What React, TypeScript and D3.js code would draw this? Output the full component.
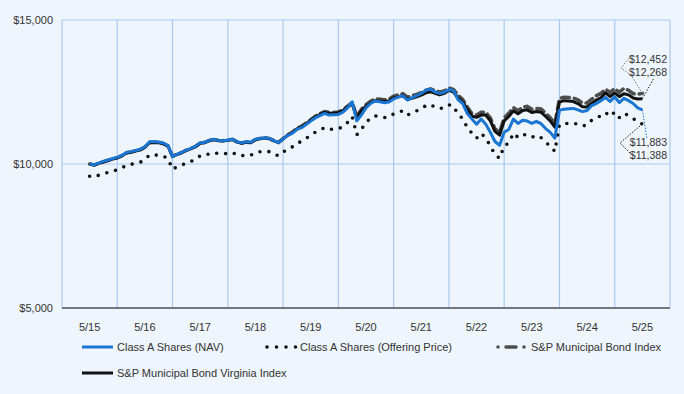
import React from 'react';
import * as d3 from 'd3';

// monthly values, 5/15 .. 5/25
const navValues = [
  10000, 9970, 10040, 10090, 10140, 10190, 10230, 10300, 10400, 10430, 10470, 10510,
  10600, 10775, 10770, 10765, 10730, 10640, 10255, 10340, 10400, 10480, 10540, 10610,
  10740, 10750, 10820, 10860, 10820, 10810, 10830, 10860, 10770, 10740, 10770, 10760,
  10860, 10890, 10910, 10890, 10810, 10740, 10870, 10990, 11065, 11200, 11260, 11370,
  11490, 11600, 11680, 11760, 11700, 11710, 11720, 11800, 11950, 12160, 11500, 11700,
  11950, 12100, 12190, 12160, 12130, 12150, 12260, 12320, 12370, 12220, 12300, 12370,
  12450, 12560, 12600, 12500, 12450, 12490, 12590, 12545, 12230, 12100, 11750, 11560,
  11380, 11560, 11380, 11100, 10780, 10650, 11100, 11200, 11560, 11410, 11520, 11490,
  11410, 11480, 11400, 11230, 11100, 10900, 11870, 11900, 11920, 11930, 11880, 11820,
  11860, 12030, 12100, 12200, 12310, 12170, 12330, 12130, 12280, 12200, 12100, 11950,
  11883,
];

const offeringValues = [
  9575, 9546, 9613, 9661, 9709, 9757, 9795, 9862, 9958, 9987, 10025, 10063,
  10150, 10317, 10312, 10307, 10274, 10188, 9819, 9901, 9958, 10035, 10092, 10159,
  10284, 10293, 10360, 10398, 10360, 10351, 10370, 10398, 10312, 10284, 10312, 10303,
  10398, 10427, 10446, 10427, 10351, 10284, 10408, 10523, 10595, 10724, 10781, 10887,
  11002, 11107, 11184, 11260, 11203, 11212, 11222, 11299, 11442, 11643, 11011, 11203,
  11442, 11586, 11672, 11643, 11614, 11634, 11739, 11796, 11844, 11701, 11777, 11844,
  11921, 12026, 12065, 11969, 11921, 11959, 12055, 12012, 11710, 11586, 11251, 11069,
  10896, 11069, 10896, 10628, 10322, 10197, 10628, 10724, 11069, 10925, 11030, 11002,
  10925, 10992, 10916, 10753, 10628, 10437, 11366, 11394, 11413, 11423, 11375, 11318,
  11356, 11519, 11586, 11682, 11787, 11653, 11806, 11614, 11758, 11682, 11586, 11442,
  11388,
];

const spMuniValues = [
  10000, 9965, 10030, 10080, 10130, 10180, 10220, 10290, 10390, 10420, 10460, 10500,
  10590, 10750, 10760, 10750, 10710, 10630, 10270, 10340, 10400, 10480, 10540, 10610,
  10730, 10750, 10820, 10850, 10820, 10810, 10830, 10860, 10770, 10730, 10760, 10750,
  10850, 10890, 10910, 10890, 10810, 10750, 10880, 11010, 11100, 11240, 11310, 11420,
  11540, 11660, 11750, 11820, 11790, 11790, 11810, 11880, 12010, 12140, 11650, 11900,
  12060, 12180, 12260, 12250, 12230, 12250, 12360, 12400, 12440, 12320, 12370, 12420,
  12480, 12560, 12610, 12550, 12500, 12540, 12640, 12590, 12380, 12240, 11980, 11750,
  11700, 11800, 11800, 11600, 11220, 11100, 11600, 11760, 11960, 11850, 11970, 12000,
  11900, 11930, 11910, 11760, 11610, 11400, 12270, 12320, 12310, 12290, 12230, 12120,
  12120, 12250, 12370, 12450, 12600, 12480, 12620, 12490, 12630, 12560, 12440, 12420,
  12452,
];

const spVirginiaValues = [
  10000, 9960, 10020, 10070, 10120, 10170, 10210, 10280, 10380, 10410, 10450, 10490,
  10580, 10740, 10750, 10740, 10700, 10620, 10260, 10330, 10390, 10470, 10530, 10600,
  10720, 10740, 10810, 10840, 10810, 10800, 10820, 10850, 10760, 10720, 10750, 10740,
  10840, 10880, 10900, 10880, 10800, 10740, 10870, 11000, 11080, 11220, 11290, 11400,
  11520, 11630, 11720, 11790, 11760, 11760, 11780, 11850, 11980, 12100, 11600, 11850,
  12000, 12120, 12200, 12190, 12170, 12190, 12300, 12330, 12370, 12250, 12280, 12330,
  12390, 12470, 12510, 12450, 12400, 12450, 12560, 12500, 12290, 12150, 11900, 11660,
  11620, 11700, 11700, 11500, 11130, 11000, 11500, 11650, 11850, 11740, 11860, 11880,
  11790, 11820, 11800, 11650, 11500, 11280, 12150, 12200, 12190, 12170, 12100, 11990,
  11980, 12100, 12220, 12300, 12470, 12340, 12470, 12340, 12440, 12400, 12290, 12260,
  12268,
];

const tickLabels = ['5/15', '5/16', '5/17', '5/18', '5/19', '5/20', '5/21', '5/22', '5/23', '5/24', '5/25'];
const yTicks = [5000, 10000, 15000];

const W = 684;
const H = 394;
const BG = '#eef5fc';
const GRID = '#a9c9ef';
const BLUE = '#1a76d2';
const FONT = '"Liberation Sans", Arial, sans-serif';

export default function App() {
  const band = d3.scaleBand<string>().domain(tickLabels).range([62, 670]);
  const half = band.bandwidth() / 2;
  const x = d3
    .scaleLinear()
    .domain([0, navValues.length - 1])
    .range([(band(tickLabels[0]) ?? 0) + half, (band(tickLabels[tickLabels.length - 1]) ?? 0) + half]);
  const y = d3.scaleLinear().domain([5000, 15000]).range([308, 20]);

  const line = d3
    .line<number>()
    .x((_, i) => x(i))
    .y((d) => y(d));

  const last = navValues.length - 1;
  const fmt = (v: number) => '$' + d3.format(',')(v);

  // grid boundaries between bands
  const bounds = tickLabels.map((t) => band(t) ?? 0).concat([670]);

  return (
    <svg
      width={W}
      height={H}
      style={{ position: 'fixed', left: 0, top: 0, background: BG, fontFamily: FONT }}
    >
      <rect x={0} y={0} width={W} height={H} fill={BG} />

      {/* grid */}
      {bounds.map((b, i) => (
        <line key={'v' + i} x1={b} x2={b} y1={20} y2={308} stroke={GRID} strokeWidth={1.2} />
      ))}
      {yTicks.map((t) => (
        <line key={'h' + t} x1={62} x2={670} y1={y(t)} y2={y(t)} stroke={GRID} strokeWidth={1.2} />
      ))}
      <line x1={62} x2={670} y1={308} y2={308} stroke="#555" strokeWidth={1.5} />

      {/* y labels */}
      {yTicks.map((t) => (
        <text key={'yl' + t} x={53} y={y(t)} dy="0.35em" textAnchor="end" fontSize={11} fill="#333">
          {fmt(t)}
        </text>
      ))}
      {/* x labels */}
      {tickLabels.map((t) => (
        <text key={'xl' + t} x={(band(t) ?? 0) + half} y={327} dy="0.35em" textAnchor="middle" fontSize={11} fill="#333">
          {t}
        </text>
      ))}

      {/* series */}
      <path
        d={line(spMuniValues) ?? ''}
        fill="none"
        stroke="#4d4d4d"
        strokeWidth={3.5}
        strokeDasharray="8 5"
        strokeLinecap="round"
      />
      <path d={line(spVirginiaValues) ?? ''} fill="none" stroke="#111" strokeWidth={3} strokeLinejoin="round" />
      <path
        d={line(offeringValues) ?? ''}
        fill="none"
        stroke="#111"
        strokeWidth={3.6}
        strokeDasharray="0 9"
        strokeLinecap="round"
      />
      <path d={line(navValues) ?? ''} fill="none" stroke={BLUE} strokeWidth={3} strokeLinejoin="round" />

      {/* end callouts */}
      <polyline
        points={`${x(last)},${y(spMuniValues[last])} 631,75 621,68 631,56`}
        fill="none"
        stroke="#777"
        strokeWidth={1}
        strokeDasharray="1.5 1.5"
      />
      <polyline
        points={`${x(last)},${y(spVirginiaValues[last])} 654,78`}
        fill="none"
        stroke="#222"
        strokeWidth={1}
        strokeDasharray="1.5 1.5"
      />
      <polyline
        points={`${x(last)},${y(navValues[last])} 647,139`}
        fill="none"
        stroke={BLUE}
        strokeWidth={1}
        strokeDasharray="1.5 1.5"
      />
      <polyline
        points={`${x(last)},${y(offeringValues[last])} 620,143 630,153`}
        fill="none"
        stroke="#222"
        strokeWidth={1}
        strokeDasharray="1.5 1.5"
      />
      <text x={667} y={59} dy="0.35em" textAnchor="end" fontSize={10.5} fill="#333">{fmt(spMuniValues[last])}</text>
      <text x={667} y={72.5} dy="0.35em" textAnchor="end" fontSize={10.5} fill="#333">{fmt(spVirginiaValues[last])}</text>
      <text x={667} y={142} dy="0.35em" textAnchor="end" fontSize={10.5} fill="#333">{fmt(navValues[last])}</text>
      <text x={667} y={155} dy="0.35em" textAnchor="end" fontSize={10.5} fill="#333">{fmt(offeringValues[last])}</text>

      {/* legend */}
      <g fontSize={11} fill="#333">
        <line x1={82} x2={113} y1={347} y2={347} stroke={BLUE} strokeWidth={3} />
        <text x={117} y={347} dy="0.35em">Class A Shares (NAV)</text>
        <line x1={267} x2={296} y1={347} y2={347} stroke="#111" strokeWidth={3.6} strokeDasharray="0 9.5" strokeLinecap="round" />
        <text x={300} y={347} dy="0.35em">Class A Shares (Offering Price)</text>
        <line x1={498} x2={526} y1={347} y2={347} stroke="#4d4d4d" strokeWidth={3.5} strokeDasharray="0 8 10 8" strokeLinecap="round" />
        <text x={531} y={347} dy="0.35em">S&amp;P Municipal Bond Index</text>
        <line x1={82} x2={113} y1={373} y2={373} stroke="#111" strokeWidth={3} />
        <text x={117} y={373} dy="0.35em">S&amp;P Municipal Bond Virginia Index</text>
      </g>
    </svg>
  );
}
